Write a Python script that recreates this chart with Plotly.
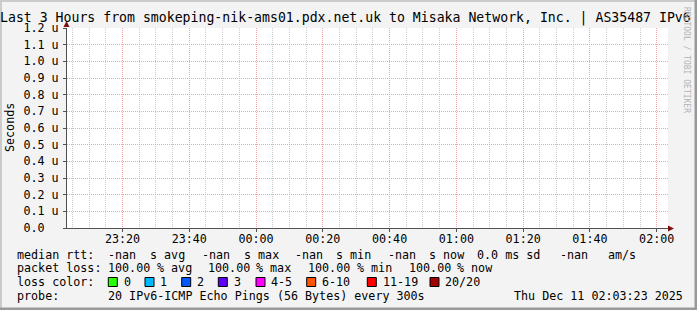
import plotly.graph_objects as go

# ---------------- data ----------------
t_start = "2025-12-10 23:03:23"
t_end = "2025-12-11 02:03:23"
rtt_times = [t_start, t_end]
median_rtt_s = [None, None]          # 100 % loss -> no values

y_tick_us = [0.0, 0.1, 0.2, 0.3, 0.4, 0.5, 0.6, 0.7, 0.8, 0.9, 1.0, 1.1, 1.2]
y_tick_text = ["0.0\u00a0\u00a0", "0.1 u", "0.2 u", "0.3 u", "0.4 u", "0.5 u", "0.6 u",
               "0.7 u", "0.8 u", "0.9 u", "1.0 u", "1.1 u", "1.2 u"]

title_text = ("Last 3 Hours from smokeping-nik-ams01.pdx.net.uk to "
              "Misaka Network, Inc. | AS35487 IPv6")
median_items = ["median rtt:", "-nan", "s avg", "-nan", "s max", "-nan", "s min",
                "-nan", "s now", "0.0 ms sd", "-nan", "am/s"]
loss_items = ["packet loss:", "100.00", "% avg", "100.00", "% max", "100.00",
              "% min", "100.00", "% now"]
loss_labels = ["0", "1", "2", "3", "4-5", "6-10", "11-19", "20/20"]
loss_colors = ["#26ff00", "#00b8ff", "#0059ff", "#5e00ff", "#ff00ff",
               "#ff5500", "#ff0000", "#a00000"]
probe_label = "probe:"
probe_text = "20 IPv6-ICMP Echo Pings (56 Bytes) every 300s"
date_text = "Thu Dec 11 02:03:23 2025"
y_title = "Seconds"
watermark = "RRDTOOL / TOBI OETIKER"

# ---------------- layout geometry (pixels) ----------------
W, H = 697, 310
L, R, T, B = 67, 668, 28, 228
MONO = "DejaVu Sans Mono"
FS = 11.7


def px(x):
    return (x - L) / (R - L)


def py(y):
    return (B - y) / (B - T)


fig = go.Figure()
fig.add_trace(go.Scatter(x=rtt_times, y=median_rtt_s, mode="lines",
                         line=dict(color="#00ff00"), showlegend=False,
                         hoverinfo="skip"))

annotations = []


def text(x, y, s, size=FS, anchor="left", color="#000000", angle=0):
    annotations.append(dict(x=px(x), y=py(y), xref="paper", yref="paper",
                            text=s, showarrow=False, xanchor=anchor,
                            yanchor="middle", textangle=angle,
                            font=dict(family=MONO, size=size, color=color)))


# title
text(-2, 18.5, title_text, size=13.2)
# y title
annotations.append(dict(x=px(10), y=py(128), xref="paper", yref="paper",
                        text=y_title, showarrow=False, xanchor="center",
                        yanchor="middle", textangle=-90,
                        font=dict(family=MONO, size=FS, color="#000")))
# watermark
annotations.append(dict(x=px(687), y=py(60), xref="paper", yref="paper",
                        text=watermark, showarrow=False, xanchor="center",
                        yanchor="middle", textangle=90,
                        font=dict(family=MONO, size=8, color="#b4b4b4")))

# legend rows
median_x = [16, 107.3, 149.3, 200.7, 242.7, 294, 335, 386.7, 428.3, 476, 559.3, 607]
for s, x in zip(median_items, median_x):
    text(x - 1, 254.5, s)
loss_x = [16, 107.3, 155.5, 207.3, 255.3, 307.3, 355.7, 407.7, 455.7]
for s, x in zip(loss_items, loss_x):
    text(x - 1, 268.3, s)
text(15, 282, "loss color:")
sq_x = [108.3, 145, 181.7, 218.3, 256, 306.7, 367.3, 430]
shapes = []
for lab, col, x in zip(loss_labels, loss_colors, sq_x):
    shapes.append(dict(type="rect", xref="paper", yref="paper",
                       x0=px(x), x1=px(x + 9), y0=py(286.5), y1=py(277.5),
                       fillcolor=col, line=dict(color="#000000", width=1)))
    text(x + 13.4, 282, lab)
text(15, 296, probe_label)
text(106.3, 296, probe_text)
text(512, 296, date_text)

# image border (rrdtool shade)
shapes += [
    dict(type="rect", xref="paper", yref="paper", x0=px(0), x1=px(W), y0=py(0), y1=py(2),
         fillcolor="#cbcbcb", line=dict(width=0)),
    dict(type="rect", xref="paper", yref="paper", x0=px(0), x1=px(2), y0=py(0), y1=py(H),
         fillcolor="#cbcbcb", line=dict(width=0)),
    dict(type="rect", xref="paper", yref="paper", x0=px(0), x1=px(W), y0=py(307.5), y1=py(H),
         fillcolor="#999999", line=dict(width=0)),
    dict(type="rect", xref="paper", yref="paper", x0=px(694.5), x1=px(W), y0=py(0), y1=py(H),
         fillcolor="#999999", line=dict(width=0)),
]
# axis extension + arrows
shapes += [
    dict(type="line", xref="paper", yref="paper", x0=px(63), x1=px(668),
         y0=py(228.5), y1=py(228.5), line=dict(color="#505050", width=1)),
    dict(type="path", xref="paper", yref="paper",
         path=f"M {px(63.5)},{py(27)} L {px(69.5)},{py(27)} L {px(66.5)},{py(21)} Z",
         fillcolor="#7f1010", line=dict(width=0)),
    dict(type="path", xref="paper", yref="paper",
         path=f"M {px(668)},{py(225.5)} L {px(668)},{py(231.5)} L {px(674)},{py(228.5)} Z",
         fillcolor="#7f1010", line=dict(width=0)),
]

GRID_MAJ = "#f4a4a4"
GRID_MIN = "#cdcdcd"

fig.update_layout(
    width=W, height=H,
    margin=dict(l=L, r=W - R, t=T, b=H - B, pad=0),
    paper_bgcolor="#f3f3f3", plot_bgcolor="#ffffff",
    showlegend=False,
    annotations=annotations,
    shapes=shapes,
    xaxis=dict(
        type="date", range=[t_start, t_end],
        dtick=1200000, tick0="2025-12-10 23:20:00", tickformat="%H:%M",
        showgrid=True, gridcolor=GRID_MAJ, griddash="1px,1px", gridwidth=1,
        ticks="outside", ticklen=3, tickcolor="#505050",
        ticklabelstandoff=-3,
        tickfont=dict(family=MONO, size=FS, color="#000"),
        showline=True, linecolor="#505050", linewidth=1,
        zeroline=False, fixedrange=True,
        minor=dict(dtick=300000, tick0="2025-12-10 23:20:00", showgrid=True,
                   gridcolor=GRID_MIN, griddash="1px,1px", gridwidth=1),
    ),
    yaxis=dict(
        range=[0, 1.2e-6],
        tickvals=[v * 1e-6 for v in y_tick_us], ticktext=y_tick_text,
        showgrid=True, gridcolor=GRID_MAJ, griddash="1px,1px", gridwidth=1,
        ticks="outside", ticklen=3, tickcolor="#505050",
        ticklabelstandoff=2,
        tickfont=dict(family=MONO, size=FS, color="#000"),
        showline=True, linecolor="#505050", linewidth=1,
        zeroline=False, fixedrange=True,
    ),
)

fig.write_html("out.html")
